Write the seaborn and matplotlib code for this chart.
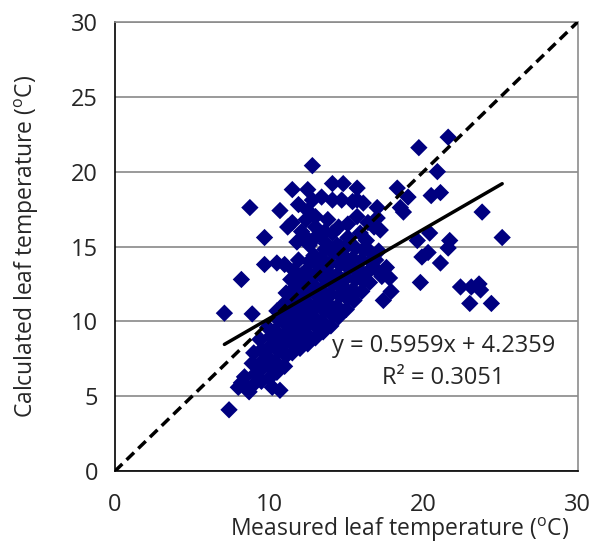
import matplotlib
matplotlib.use("Agg")
import numpy as np
import pandas as pd
import matplotlib.pyplot as plt
import seaborn as sns
from matplotlib.ticker import MultipleLocator

# scattered points away from the main band
out_meas = [7.1, 7.4, 8.2, 8.2, 8.7, 8.9, 8.75, 9.7, 9.7, 10.5, 10.2, 10.7,
            19.7, 21.6, 20.9, 20.5, 21.1, 23.8, 25.1, 18.3, 19.0, 18.5, 18.7,
            19.6, 20.4, 21.7, 21.6, 20.3, 19.9, 21.1, 19.8, 22.4, 23.1, 23.6,
            23.7, 23.0, 24.4, 17.6, 17.3, 17.8, 17.9, 17.4, 15.6, 12.8, 10.7]
out_calc = [10.55, 4.1, 12.8, 5.9, 5.3, 10.5, 17.6, 15.6, 13.8, 13.9, 5.6, 5.4,
            21.6, 22.3, 20.0, 18.4, 18.6, 17.3, 15.6, 18.9, 18.3, 17.6, 17.3,
            15.4, 15.9, 15.4, 14.9, 14.6, 14.3, 13.9, 12.6, 12.3, 12.3, 12.5,
            12.1, 11.2, 11.2, 13.6, 13.0, 12.9, 12.0, 11.4, 11.9, 20.4, 17.4]

# upper cloud above the band
up_meas = [11.5, 12.5, 14.1, 14.8, 15.7, 11.9, 12.8, 13.4, 14.1, 14.7, 15.4,
           16.1, 17.0, 12.5, 13.0, 15.7, 11.2, 11.5, 12.4, 13.8, 14.5, 15.1,
           16.8, 17.2, 17.0, 12.4, 12.6, 13.3, 14.1, 15.1, 15.9, 16.3, 13.7,
           14.6, 11.9, 12.8, 11.0, 12.1, 13.0, 15.7, 13.6, 11.8, 12.9, 16.4]
up_calc = [18.8, 18.8, 19.2, 19.2, 18.9, 17.8, 18.1, 18.3, 18.1, 18.1, 18.0,
           17.9, 17.6, 17.4, 17.0, 17.0, 16.3, 16.6, 16.8, 16.8, 16.3, 16.5,
           16.3, 16.1, 16.9, 15.6, 15.1, 15.8, 15.9, 15.6, 15.9, 15.4, 15.2,
           15.0, 14.1, 14.1, 13.8, 16.0, 16.3, 18.1, 16.0, 15.3, 15.5, 16.6]

# dense band along the fit
band_meas = [8.0, 8.5, 8.4, 9.0, 9.1, 8.9, 9.0,
             9.5, 9.4, 9.6, 9.5, 9.4,
             10.0, 10.1, 9.9, 10.0, 10.1, 9.9,
             10.5, 10.4, 10.6, 10.5, 10.4, 10.6, 10.5,
             11.0, 11.1, 10.9, 11.0, 11.1, 10.9, 11.0, 11.1,
             11.5, 11.4, 11.6, 11.5, 11.4, 11.6, 11.5, 11.4, 11.6,
             12.0, 12.1, 11.9, 12.0, 12.1, 11.9, 12.0, 12.1,
             12.5, 12.4, 12.6, 12.5, 12.4, 12.6, 12.5, 12.4, 12.6,
             13.0, 13.1, 12.9, 13.0, 13.1, 12.9, 13.0, 13.1, 12.9,
             13.5, 13.4, 13.6, 13.5, 13.4, 13.6, 13.5, 13.4, 13.6,
             14.0, 14.1, 13.9, 14.0, 14.1, 13.9, 14.0, 14.1,
             14.5, 14.4, 14.6, 14.5, 14.4, 14.6, 14.5, 14.4,
             15.0, 15.1, 14.9, 15.0, 15.1, 14.9, 15.0,
             15.5, 15.4, 15.6, 15.5, 15.4, 15.6,
             16.0, 16.1, 15.9, 16.0, 16.1,
             16.5, 16.4, 16.6, 16.5,
             17.0, 16.9, 17.1]
band_calc = [5.6, 5.6, 6.3, 5.8, 6.5, 7.2, 7.9,
             6.0, 6.7, 7.4, 8.1, 8.8,
             6.2, 6.9, 7.6, 8.3, 9.0, 9.6,
             6.6, 7.3, 8.0, 8.7, 9.4, 10.1, 10.7,
             7.0, 7.7, 8.4, 9.1, 9.8, 10.5, 11.2, 11.9,
             7.9, 8.6, 9.3, 10.0, 10.7, 11.4, 12.1, 12.8, 13.4,
             8.2, 8.9, 9.6, 10.3, 11.0, 11.7, 12.4, 13.1,
             8.5, 9.2, 9.9, 10.6, 11.3, 12.0, 12.7, 13.4, 14.0,
             8.9, 9.6, 10.3, 11.0, 11.7, 12.4, 13.1, 13.8, 14.4,
             9.3, 10.0, 10.7, 11.4, 12.1, 12.8, 13.5, 14.2, 14.8,
             9.7, 10.4, 11.1, 11.8, 12.5, 13.2, 13.9, 14.6,
             10.3, 11.0, 11.7, 12.4, 13.1, 13.8, 14.5, 15.1,
             10.8, 11.5, 12.2, 12.9, 13.6, 14.3, 15.0,
             11.4, 12.1, 12.8, 13.5, 14.2, 14.9,
             12.0, 12.7, 13.4, 14.1, 14.8,
             12.6, 13.3, 14.0, 14.7,
             13.4, 14.1, 14.7]

slope = 0.5959
intercept = 4.2359
r2 = 0.3051

df = pd.DataFrame({
    "meas": out_meas + up_meas + band_meas,
    "calc": out_calc + up_calc + band_calc,
})

sns.set_style("white")
plt.rcParams["font.family"] = ["Open Sans", "DejaVu Sans"]
plt.rcParams["mathtext.fontset"] = "custom"
plt.rcParams["mathtext.rm"] = "Open Sans"

fig = plt.figure(figsize=(5.92, 5.46), dpi=100)
ax = fig.add_axes([0.194, 0.137, 0.782, 0.823])

ax.set_xlim(0, 30)
ax.set_ylim(0, 30)
ax.yaxis.set_major_locator(MultipleLocator(5))
ax.yaxis.set_minor_locator(MultipleLocator(1))
ax.xaxis.set_major_locator(MultipleLocator(10))
ax.xaxis.set_minor_locator(MultipleLocator(2))
ax.grid(axis="y", which="major", color="#7f7f7f", linewidth=1.1, zorder=0)
ax.set_axisbelow(True)

# 1:1 line
ax.plot([0, 30], [0, 30], color="black", linestyle=(0, (3, 1.7)), linewidth=2.5, zorder=3)

sns.scatterplot(data=df, x="meas", y="calc", marker="D", s=78, color="#000080",
                edgecolor="none", linewidth=0, ax=ax, zorder=2)

# linear trend line
xfit = np.array([min(df["meas"]), max(df["meas"])])
ax.plot(xfit, slope * xfit + intercept, color="black", linewidth=2.5, zorder=4)

ax.text(21.3, 8.35, f"y = {slope:.4f}x + {intercept:.4f}", ha="center", va="center", fontsize=17)
ax.text(21.3, 6.2, f"R² = {r2:.4f}", ha="center", va="center", fontsize=17)

for side in ["left", "bottom"]:
    ax.spines[side].set_color("black")
    ax.spines[side].set_linewidth(1.2)
for side in ["right", "top"]:
    ax.spines[side].set_color("#8c8c8c")
    ax.spines[side].set_linewidth(1.2)

ax.tick_params(which="major", direction="out", length=7, width=1.2, labelsize=17, pad=5, color="black")
ax.tick_params(which="minor", direction="in", length=5, width=1, color="black")
ax.tick_params(axis="x", which="major", pad=9)

ax.set_xlabel(r"Measured leaf temperature ($\mathregular{^{o}}$C)", fontsize=16.5)
ax.set_ylabel(r"Calculated leaf temperature ($\mathregular{^{o}}$C)", fontsize=16.5)
ax.xaxis.set_label_coords(0.615, -0.1)
ax.yaxis.set_label_coords(-0.16, 0.5)

fig.savefig("out.png", dpi=100)
